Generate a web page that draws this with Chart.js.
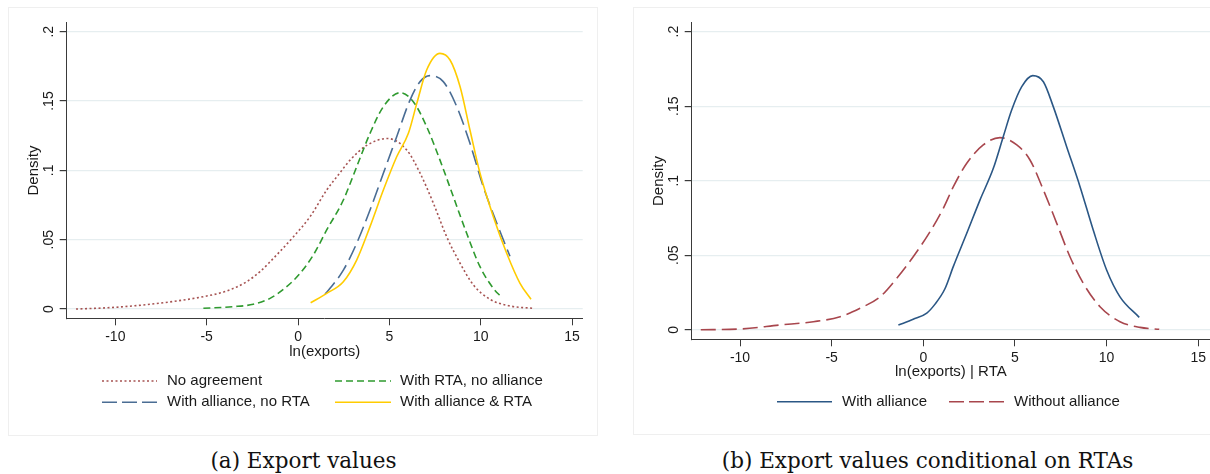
<!DOCTYPE html>
<html><head><meta charset="utf-8">
<script src="https://cdn.jsdelivr.net/npm/chart.js@4.4.1/dist/chart.umd.min.js"></script>
<style>
html,body{margin:0;padding:0;background:#fff;width:1210px;height:474px;overflow:hidden;}
.region{position:absolute;border:1px solid #efefef;box-sizing:border-box;}
canvas{position:absolute;top:0;}
.cap{position:absolute;top:450px;font-family:'DejaVu Serif',serif;font-size:21.5px;line-height:21.5px;color:#111;white-space:nowrap;transform:translateX(-50%);}
</style></head><body>
<div class="region" style="left:8px;top:7px;width:590px;height:429px"></div>
<div class="region" style="left:633px;top:7px;width:590px;height:428px"></div>
<canvas id="c1" width="600" height="440" style="left:0px"></canvas>
<canvas id="c2" width="605" height="440" style="left:605px"></canvas>
<div class="cap" style="left:303.5px">(a) Export values</div>
<div class="cap" style="left:927.5px">(b) Export values conditional on RTAs</div>
<script>
// ---------- DATA ----------
const xTickVals = [-10, -5, 0, 5, 10, 15];
const xTickLabels = ['-10', '-5', '0', '5', '10', '15'];
const yTickVals = [0, 0.05, 0.1, 0.15, 0.2];
const yTickLabels = ['0', '.05', '.1', '.15', '.2'];

// Panel (a): Export values
const seriesNamesA = ['No agreement', 'With RTA, no alliance', 'With alliance, no RTA', 'With alliance & RTA'];
const noAgreeX = [-12.15, -10.29, -8.47, -6.64, -5.18, -3.9, -2.81, -2.08, -1.17, -0.26, 0.66, 1.57, 2.28, 2.85, 3.76, 4.89, 5.95, 6.68, 7.41, 8.14, 8.87, 9.6, 10.51, 11.6, 12.88];
const noAgreeY = [0.0, 0.001, 0.0029, 0.0058, 0.0089, 0.013, 0.0197, 0.027, 0.039, 0.052, 0.0666, 0.0858, 0.098, 0.1074, 0.118, 0.123, 0.1147, 0.098, 0.0762, 0.052, 0.033, 0.0173, 0.007, 0.0022, 0.0005];
const rtaNoAllX = [-5.18, -3.54, -2.45, -1.53, -0.62, 0.11, 0.84, 1.57, 2.48, 3.21, 3.94, 4.67, 5.58, 6.31, 7.04, 7.77, 8.5, 9.23, 9.96, 10.69, 11.15];
const rtaNoAllY = [0.0005, 0.0017, 0.0034, 0.0077, 0.0161, 0.0257, 0.039, 0.057, 0.0786, 0.1026, 0.1267, 0.1459, 0.156, 0.1495, 0.1315, 0.1074, 0.081, 0.0546, 0.0305, 0.0149, 0.0084];
const allNoRtaX = [1.48, 1.75, 2.48, 3.21, 3.94, 4.67, 5.4, 6.13, 6.68, 7.22, 7.95, 8.69, 9.41, 10.14, 10.88, 11.6];
const allNoRtaY = [0.0108, 0.0149, 0.028, 0.0474, 0.0714, 0.0979, 0.1243, 0.1507, 0.164, 0.1683, 0.164, 0.1459, 0.1195, 0.0882, 0.0618, 0.038];
const allRtaX = [0.69, 1.57, 2.48, 3.21, 3.94, 4.67, 5.4, 6.04, 6.5, 7.04, 7.77, 8.32, 8.87, 9.41, 9.96, 10.69, 11.42, 12.15, 12.75];
const allRtaY = [0.0045, 0.0113, 0.0197, 0.0353, 0.0594, 0.0858, 0.1098, 0.1267, 0.1483, 0.1724, 0.1844, 0.1796, 0.1603, 0.1291, 0.0979, 0.0666, 0.0402, 0.0185, 0.007];

// Panel (b): Export values conditional on RTAs
const seriesNamesB = ['With alliance', 'Without alliance'];
const withAllX = [-1.36, -0.55, 0.19, 0.64, 1.18, 1.64, 2.37, 3.09, 3.82, 4.36, 4.82, 5.37, 5.97, 6.55, 7.09, 7.82, 8.55, 9.27, 10.0, 10.73, 11.78];
const withAllY = [0.0032, 0.007, 0.0112, 0.0172, 0.0275, 0.0425, 0.0647, 0.087, 0.1083, 0.1295, 0.1474, 0.1631, 0.1705, 0.1664, 0.1497, 0.1228, 0.096, 0.0669, 0.0401, 0.0221, 0.0083];
const withoutAllX = [-12.14, -10.0, -7.82, -6.0, -4.54, -3.45, -2.36, -1.45, -0.55, 0.37, 1.09, 1.64, 2.37, 3.27, 4.18, 5.1, 5.82, 6.55, 7.28, 8.0, 8.73, 9.64, 10.73, 11.82, 12.87];
const withoutAllY = [0.0, 0.0005, 0.0032, 0.0054, 0.0087, 0.0144, 0.0221, 0.0345, 0.049, 0.0658, 0.0815, 0.096, 0.1117, 0.124, 0.1289, 0.124, 0.1139, 0.0938, 0.0714, 0.049, 0.0311, 0.0154, 0.0054, 0.0016, 0.0003];

// ---------- HELPERS ----------
const zip = (xs, ys) => xs.map((x, i) => ({x: x, y: ys[i]}));
const FONT = '"Liberation Sans", Arial, sans-serif';
const TXT = '#1a1a1a';
const AXIS = '#3a3a3a';
const GRID = '#e6eef0';

const yRotLabels = {
  id: 'yRotLabels',
  afterDraw(chart, args, opts) {
    const s = chart.scales.y, ctx = chart.ctx;
    ctx.save();
    ctx.font = '14px ' + FONT;
    ctx.fillStyle = TXT;
    ctx.textAlign = 'center';
    ctx.textBaseline = 'middle';
    s.ticks.forEach((t, i) => {
      const y = s.getPixelForValue(t.value);
      ctx.save();
      ctx.translate(chart.chartArea.left - opts.offset, y);
      ctx.rotate(-Math.PI / 2);
      ctx.fillText(yTickLabels[i], 0, 0);
      ctx.restore();
    });
    ctx.restore();
  }
};

const customLegend = {
  id: 'customLegend',
  afterDraw(chart, args, opts) {
    const ctx = chart.ctx;
    chart.data.datasets.forEach((ds, i) => {
      const it = opts.items[i];
      ctx.save();
      ctx.strokeStyle = ds.borderColor;
      ctx.lineWidth = ds.borderWidth;
      ctx.setLineDash(ds.legendDash || ds.borderDash || []);
      ctx.beginPath();
      ctx.moveTo(it.x0, it.y);
      ctx.lineTo(it.x1, it.y);
      ctx.stroke();
      ctx.setLineDash([]);
      ctx.fillStyle = TXT;
      ctx.font = '15px ' + FONT;
      ctx.textAlign = 'left';
      ctx.textBaseline = 'middle';
      ctx.fillText(ds.label, it.tx, it.y);
      ctx.restore();
    });
  }
};

function makeOptions(cfg) {
  return {
    responsive: false,
    animation: false,
    devicePixelRatio: 1,
    layout: {padding: cfg.padding},
    elements: {point: {radius: 0}, line: {cubicInterpolationMode: 'monotone'}},
    plugins: {
      legend: {display: false},
      tooltip: {enabled: false},
      yRotLabels: {offset: 17.5},
      customLegend: {items: cfg.legendItems}
    },
    scales: {
      x: {
        type: 'linear',
        min: cfg.xmin, max: cfg.xmax,
        afterBuildTicks: (s) => { s.ticks = xTickVals.map(v => ({value: v})); },
        afterFit: (s) => { s.height = cfg.xHeight; },
        ticks: {
          font: {family: FONT, size: 14}, color: TXT, padding: 3, maxRotation: 0, autoSkip: false,
          callback: (v) => { const i = xTickVals.indexOf(v); return i >= 0 ? xTickLabels[i] : ''; }
        },
        grid: {display: true, drawOnChartArea: false, drawTicks: true, tickLength: 7, color: AXIS, tickColor: AXIS, lineWidth: 1},
        border: {display: true, color: AXIS, width: 1},
        title: {display: true, text: cfg.xTitle, font: {family: FONT, size: 15}, color: TXT, padding: 0}
      },
      y: {
        type: 'linear',
        min: cfg.ymin, max: cfg.ymax,
        afterBuildTicks: (s) => { s.ticks = yTickVals.map(v => ({value: v})); },
        afterFit: (s) => { s.width = cfg.yWidth; },
        ticks: {display: false},
        grid: {display: true, drawOnChartArea: true, drawTicks: true, tickLength: 7, color: GRID, tickColor: AXIS, lineWidth: 1.2},
        border: {display: true, color: AXIS, width: 1},
        title: {display: true, text: 'Density', font: {family: FONT, size: 15}, color: TXT, padding: cfg.yTitlePad}
      }
    }
  };
}

// ---------- PANEL A ----------
new Chart(document.getElementById('c1'), {
  type: 'line',
  data: {
    datasets: [
      {label: seriesNamesA[0], data: zip(noAgreeX, noAgreeY), borderColor: '#a65352', borderWidth: 1.6, borderDash: [2, 2.5], order: 3},
      {label: seriesNamesA[1], data: zip(rtaNoAllX, rtaNoAllY), borderColor: '#2f9a2f', borderWidth: 1.6, borderDash: [7, 4], order: 2},
      {label: seriesNamesA[2], data: zip(allNoRtaX, allNoRtaY), borderColor: '#4a6d94', borderWidth: 1.6, borderDash: [15, 6], legendDash: [15, 5], order: 1},
      {label: seriesNamesA[3], data: zip(allRtaX, allRtaY), borderColor: '#ffcc00', borderWidth: 1.6, order: 0}
    ]
  },
  options: makeOptions({
    padding: {left: 0, top: 22.7, right: 17.3, bottom: 79.3},
    xmin: -12.66, xmax: 15.58, ymin: -0.0067, ymax: 0.2065,
    xHeight: 42.4, yWidth: 66.7, yTitlePad: 24.8,
    xTitle: 'ln(exports)',
    legendItems: [
      {x0: 102, x1: 157, tx: 167, y: 381},
      {x0: 335, x1: 391, tx: 400, y: 381},
      {x0: 102, x1: 157, tx: 167, y: 402.3},
      {x0: 335, x1: 391, tx: 400, y: 402.3}
    ]
  }),
  plugins: [yRotLabels, customLegend]
});

// ---------- PANEL B ----------
const offB = 605;
new Chart(document.getElementById('c2'), {
  type: 'line',
  data: {
    datasets: [
      {label: seriesNamesB[0], data: zip(withAllX, withAllY), borderColor: '#2b5785', borderWidth: 1.6, order: 0},
      {label: seriesNamesB[1], data: zip(withoutAllX, withoutAllY), borderColor: '#a8464d', borderWidth: 1.6, borderDash: [15, 6], legendDash: [15, 5], order: 1}
    ]
  },
  options: makeOptions({
    padding: {left: 0, top: 22.7, right: 0, bottom: 58.7},
    xmin: -12.635, xmax: 15.64, ymin: -0.0064, ymax: 0.206,
    xHeight: 42, yWidth: 86.7, yTitlePad: 45.3,
    xTitle: 'ln(exports) | RTA',
    legendItems: [
      {x0: 777 - offB, x1: 832 - offB, tx: 842 - offB, y: 401.7},
      {x0: 949 - offB, x1: 1005 - offB, tx: 1014 - offB, y: 401.7}
    ]
  }),
  plugins: [yRotLabels, customLegend]
});
</script>
</body></html>
